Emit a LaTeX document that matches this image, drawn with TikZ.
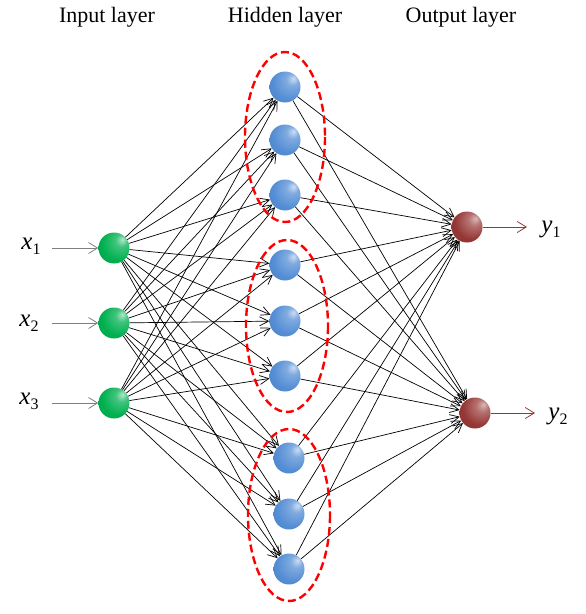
\documentclass[tikz,border=0pt]{standalone}
\usepackage{fontspec}
\setmainfont{Liberation Serif}
\usetikzlibrary{arrows.meta}
\definecolor{ingreen}{HTML}{00B050}
\definecolor{hidblue}{HTML}{558ED5}
\definecolor{outred}{HTML}{953735}
\definecolor{dashred}{HTML}{FF0000}
\pgfdeclareradialshading{greenball}{\pgfpoint{14bp}{14bp}}{color(0bp)=(ingreen!30!white); color(10bp)=(ingreen!75!white); color(28bp)=(ingreen); color(55bp)=(ingreen!85!black); color(70bp)=(ingreen!85!black)}
\pgfdeclareradialshading{blueball}{\pgfpoint{14bp}{14bp}}{color(0bp)=(hidblue!30!white); color(10bp)=(hidblue!75!white); color(28bp)=(hidblue); color(55bp)=(hidblue!85!black); color(70bp)=(hidblue!85!black)}
\pgfdeclareradialshading{redball}{\pgfpoint{14bp}{14bp}}{color(0bp)=(outred!35!white); color(10bp)=(outred!70!white); color(28bp)=(outred); color(55bp)=(outred!90!black); color(70bp)=(outred!90!black)}
\begin{document}
\begin{tikzpicture}[x=1pt,y=-1pt,
  neuron/.style={circle,inner sep=0pt,minimum size=31pt},
  inneuron/.style={neuron,shading=greenball},
  hidneuron/.style={neuron,shading=blueball},
  outneuron/.style={neuron,shading=redball},
  conn/.style={-{Straight Barb[length=9pt,width=9pt]},line width=0.7pt,black},
  inarrow/.style={-{Straight Barb[length=9pt,width=11pt]},line width=0.8pt,gray},
  outarrow/.style={-{Straight Barb[length=9pt,width=11pt]},line width=0.8pt,outred},
  group/.style={draw=dashred,dash pattern=on 8pt off 4pt,line width=2.4pt},
  header/.style={font=\fontsize{22}{25}\selectfont},
  varlabel/.style={font=\fontsize{25}{28}\selectfont,inner sep=0pt}
]
\useasboundingbox (0,0) rectangle (586,614);
\node[header] (hin) at (107,17) {Input layer};
\node[header] (hhid) at (285,17) {Hidden layer};
\node[header] (hout) at (461,17) {Output layer};

% input nodes
\node[inneuron] (i1) at (114,248) {};
\node[inneuron] (i2) at (114,323) {};
\node[inneuron] (i3) at (114,403) {};
% hidden
\node[hidneuron] (h1) at (285,87) {};
\node[hidneuron] (h2) at (285,140) {};
\node[hidneuron] (h3) at (285,195) {};
\node[hidneuron] (h4) at (285,265) {};
\node[hidneuron] (h5) at (285,321) {};
\node[hidneuron] (h6) at (285,376) {};
\node[hidneuron] (h7) at (289,458) {};
\node[hidneuron] (h8) at (289,514) {};
\node[hidneuron] (h9) at (289,569) {};
% output
\node[outneuron] (o1) at (467,227) {};
\node[outneuron] (o2) at (475,413) {};

\foreach \i in {1,2,3}
  \foreach \h in {1,...,9}
    \draw[conn] (i\i) -- (h\h);
\foreach \h in {1,...,9}
  \foreach \o in {1,2}
    \draw[conn] (h\h) -- (o\o);

% groups
\draw[group] (285,137) ellipse [x radius=40,y radius=85];
\draw[group] (287,326) ellipse [x radius=41,y radius=86];
\draw[group] (289,515) ellipse [x radius=41,y radius=86];

% input labels
\node[varlabel] (x1) at (31,246) {\textit{x}\raisebox{-5pt}{\fontsize{16}{18}\selectfont 1}};
\node[varlabel] (x2) at (29,323) {\textit{x}\raisebox{-5pt}{\fontsize{16}{18}\selectfont 2}};
\node[varlabel] (x3) at (29,401) {\textit{x}\raisebox{-5pt}{\fontsize{16}{18}\selectfont 3}};
\coordinate (xa1) at (52,248);
\coordinate (xa2) at (52,323);
\coordinate (xa3) at (52,403);
\draw[inarrow] (xa1) -- (i1);
\draw[inarrow] (xa2) -- (i2);
\draw[inarrow] (xa3) -- (i3);

% output labels
\coordinate (ya1) at (527,227);
\coordinate (ya2) at (535,413);
\draw[outarrow] (o1) -- (ya1);
\draw[outarrow] (o2) -- (ya2);
\node[varlabel] (y1) at (551,229) {\textit{y}\raisebox{-5pt}{\fontsize{16}{18}\selectfont 1}};
\node[varlabel] (y2) at (558,416) {\textit{y}\raisebox{-5pt}{\fontsize{16}{18}\selectfont 2}};
\end{tikzpicture}
\end{document}
